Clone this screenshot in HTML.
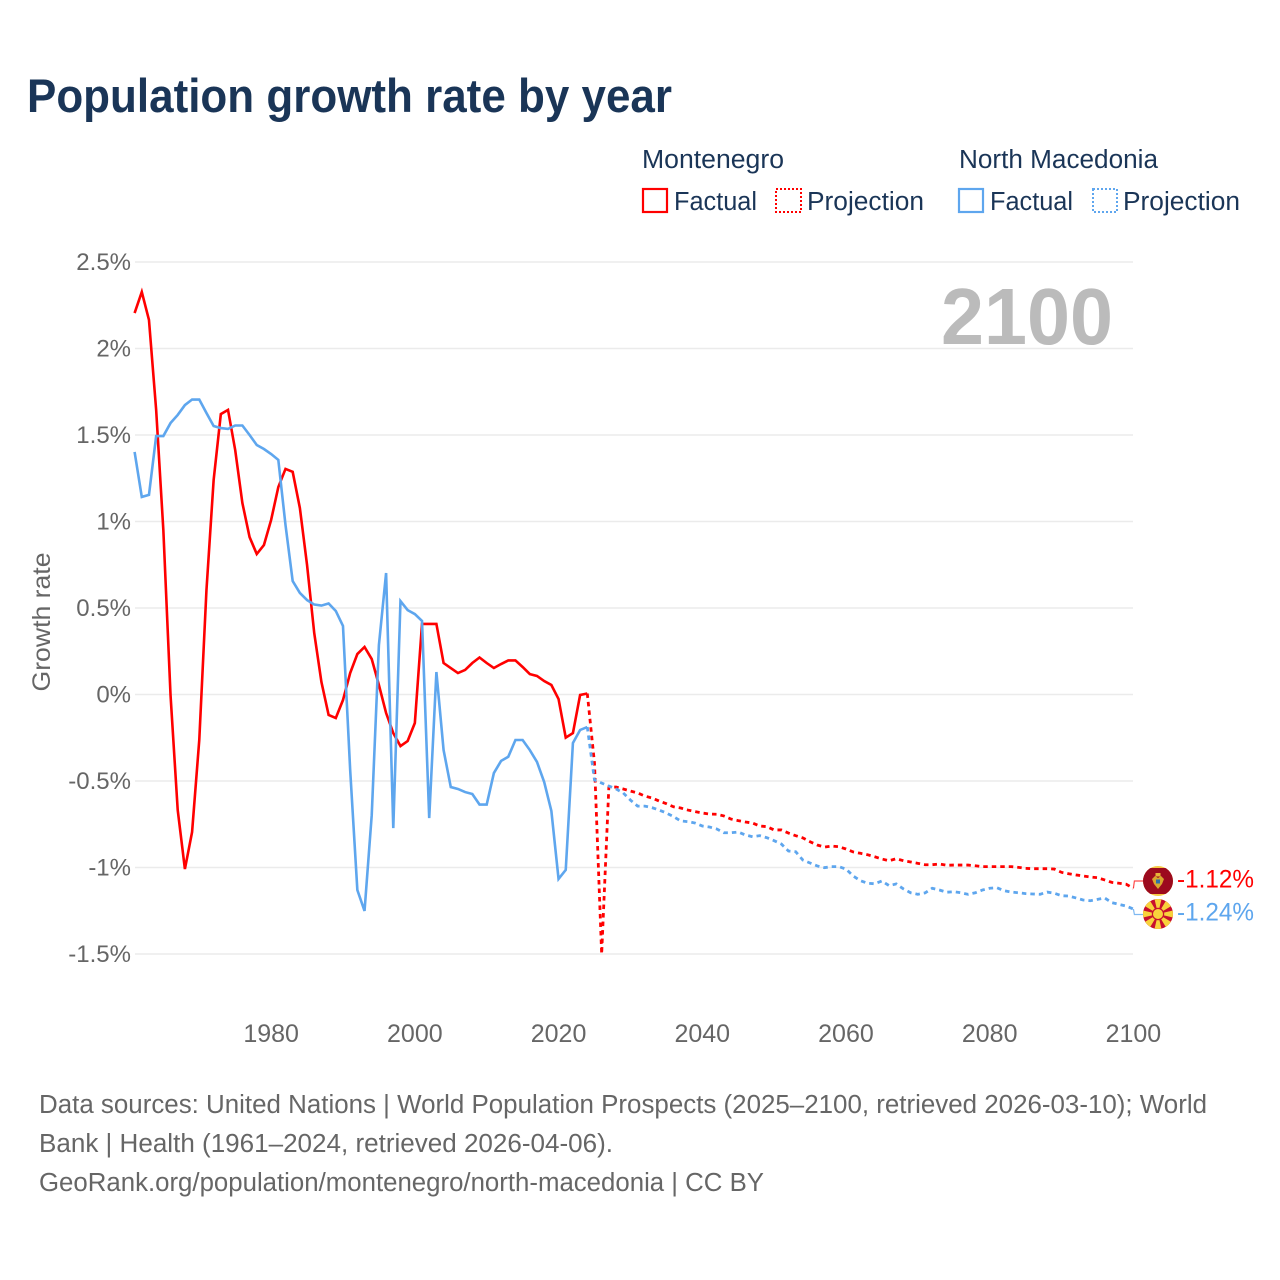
<!DOCTYPE html>
<html lang="en">
<head>
<meta charset="utf-8">
<title>Population growth rate by year</title>
<style>
html,body{margin:0;padding:0;background:#fff}
svg{display:block}
text{font-family:"Liberation Sans",sans-serif}
</style>
</head>
<body>
<svg id="chart" xmlns="http://www.w3.org/2000/svg" width="1280" height="1280" viewBox="0 0 1280 1280">
  <defs>
    <clipPath id="plot-clip"><rect x="130" y="250" width="1004" height="704.5"/></clipPath>
    <clipPath id="me-clip"><circle cx="1158" cy="881" r="15"/></clipPath>
    <clipPath id="mk-clip"><circle cx="1158" cy="914" r="15"/></clipPath>
  </defs>
  <text x="27" y="112" font-size="47" font-weight="700" fill="#1a3557" textLength="645" lengthAdjust="spacingAndGlyphs">Population growth rate by year</text>

  <g>
    <text x="642" y="168" font-size="25.5" fill="#1a3557" textLength="142" lengthAdjust="spacingAndGlyphs">Montenegro</text>
    <text x="959" y="168" font-size="25.5" fill="#1a3557" textLength="199" lengthAdjust="spacingAndGlyphs">North Macedonia</text>
    <rect x="643" y="189" width="24" height="23" fill="none" stroke="#ff0000" stroke-width="2.2"/>
    <text x="674" y="210" font-size="25.5" fill="#1a3557" textLength="83" lengthAdjust="spacingAndGlyphs">Factual</text>
    <rect x="776" y="189" width="25" height="23" fill="none" stroke="#ff0000" stroke-width="2" stroke-dasharray="2 2"/>
    <text x="807" y="210" font-size="25.5" fill="#1a3557" textLength="117" lengthAdjust="spacingAndGlyphs">Projection</text>
    <rect x="959" y="189" width="24" height="23" fill="none" stroke="#5ea6ee" stroke-width="2.2"/>
    <text x="990" y="210" font-size="25.5" fill="#1a3557" textLength="83" lengthAdjust="spacingAndGlyphs">Factual</text>
    <rect x="1093" y="189" width="24" height="23" fill="none" stroke="#5ea6ee" stroke-width="2" stroke-dasharray="2 2"/>
    <text x="1123" y="210" font-size="25.5" fill="#1a3557" textLength="117" lengthAdjust="spacingAndGlyphs">Projection</text>
  </g>

  <g id="grid"></g>
  <g id="y-ticks"></g>
  <g id="x-ticks"></g>
  <text transform="translate(50,622) rotate(-90)" text-anchor="middle" font-size="25" fill="#666666" textLength="139" lengthAdjust="spacingAndGlyphs">Growth rate</text>
  <text x="941" y="344" font-size="80" font-weight="700" fill="#bbbbbb" textLength="172" lengthAdjust="spacingAndGlyphs">2100</text>

  <g id="series" clip-path="url(#plot-clip)"></g>
  <g id="leaders"></g>

  <g clip-path="url(#me-clip)">
    <rect x="1143" y="866" width="30" height="30" fill="#f6c945"/>
    <rect x="1143" y="868" width="30" height="26" fill="#9c0a1e"/>
    <path d="M1152 879 L1155 876 L1158 878 L1161 876 L1164 879 L1162 884 L1158 889 L1154 884 Z" fill="#d9a62e"/>
    <rect x="1155.5" y="873" width="5" height="3.5" fill="#e6b53a"/>
    <rect x="1156" y="879.5" width="4" height="4" fill="#2f6fa8"/>
  </g>
  <g clip-path="url(#mk-clip)">
    <rect x="1143" y="899" width="30" height="30" fill="#c8102e"/>
    <path d="M1154.5 899 L1161.5 899 L1158 914 Z M1154.5 929 L1161.5 929 L1158 914 Z M1143 910.5 L1143 917.5 L1158 914 Z M1173 910.5 L1173 917.5 L1158 914 Z M1143 899 L1149 899 L1158 914 L1143 905 Z M1173 899 L1167 899 L1158 914 L1173 905 Z M1143 929 L1149 929 L1158 914 L1143 923 Z M1173 929 L1167 929 L1158 914 L1173 923 Z" fill="#f8d23c"/>
    <circle cx="1158" cy="914" r="6.2" fill="#c8102e"/>
    <circle cx="1158" cy="914" r="5" fill="#f8d23c"/>
  </g>
  <text id="label-me" x="1177" y="887.5" font-size="25" fill="#ff0000" textLength="77" lengthAdjust="spacingAndGlyphs"></text>
  <text id="label-mk" x="1177" y="920.5" font-size="25" fill="#5ea6ee" textLength="77" lengthAdjust="spacingAndGlyphs"></text>

  <g font-size="25.5" fill="#666666">
    <text x="39" y="1113" textLength="1168" lengthAdjust="spacingAndGlyphs">Data sources: United Nations | World Population Prospects (2025–2100, retrieved 2026-03-10); World</text>
    <text x="39" y="1152" textLength="574" lengthAdjust="spacingAndGlyphs">Bank | Health (1961–2024, retrieved 2026-04-06).</text>
    <text x="39" y="1191" textLength="725" lengthAdjust="spacingAndGlyphs">GeoRank.org/population/montenegro/north-macedonia | CC BY</text>
  </g>
</svg>
<script>
const yTickValues = [2.5, 2, 1.5, 1, 0.5, 0, -0.5, -1, -1.5];
const yTickLabels = ["2.5%", "2%", "1.5%", "1%", "0.5%", "0%", "-0.5%", "-1%", "-1.5%"];
const xTickYears = [1980, 2000, 2020, 2040, 2060, 2080, 2100];
const factualStartYear = 1961;
const projectionStartYear = 2024;
const montenegroFactual = [2.205,2.327,2.165,1.645,.951,-.003,-.668,-1.009,-.795,-.263,.604,1.240,1.621,1.645,1.413,1.107,.910,.812,.864,1.009,1.199,1.304,1.287,1.078,.749,.355,.072,-.118,-.136,-.032,.124,.234,.275,.205,.055,-.107,-.223,-.298,-.269,-.165,.408,.408,.408,.182,.153,.124,.142,.182,.214,.182,.153,.176,.197,.197,.159,.118,.107,.078,.055,-.026,-.249,-.223,-.003,.006];
const northMacedoniaFactual = [1.402,1.142,1.154,1.494,1.494,1.569,1.616,1.673,1.705,1.705,1.627,1.552,1.540,1.535,1.555,1.555,1.500,1.442,1.419,1.390,1.356,.980,.656,.587,.546,.520,.514,.526,.483,.396,-.436,-1.130,-1.251,-.697,.286,.702,-.772,.540,.488,.465,.425,-.714,.130,-.321,-.535,-.546,-.564,-.575,-.636,-.636,-.454,-.384,-.360,-.263,-.263,-.321,-.390,-.506,-.673,-1.066,-1.014,-.280,-.205,-.188];
const montenegroProjection = [.006,-.396,-1.5,-.535,-.535,-.546,-.558,-.569,-.587,-.598,-.616,-.631,-.649,-.656,-.668,-.677,-.685,-.691,-.692,-.702,-.720,-.729,-.737,-.743,-.760,-.764,-.783,-.783,-.801,-.816,-.829,-.851,-.870,-.882,-.876,-.880,-.893,-.910,-.918,-.926,-.938,-.951,-.961,-.949,-.961,-.968,-.976,-.984,-.984,-.980,-.987,-.986,-.986,-.986,-.990,-.995,-.995,-.995,-.995,-.995,-.999,-1.005,-1.007,-1.007,-1.007,-1.009,-1.028,-1.036,-1.043,-1.049,-1.055,-1.059,-1.072,-1.086,-1.091,-1.097,-1.12];
const northMacedoniaProjection = [-.188,-.494,-.512,-.529,-.546,-.569,-.610,-.645,-.645,-.654,-.668,-.685,-.706,-.731,-.735,-.743,-.760,-.766,-.777,-.799,-.799,-.795,-.812,-.822,-.816,-.828,-.845,-.864,-.905,-.909,-.957,-.974,-.991,-1.001,-.995,-.995,-1.009,-1.049,-1.076,-1.091,-1.094,-1.078,-1.105,-1.095,-1.124,-1.146,-1.155,-1.147,-1.120,-1.130,-1.143,-1.140,-1.146,-1.155,-1.146,-1.130,-1.120,-1.117,-1.134,-1.142,-1.146,-1.151,-1.153,-1.155,-1.142,-1.149,-1.163,-1.165,-1.176,-1.188,-1.192,-1.184,-1.176,-1.203,-1.213,-1.223,-1.24];

const SVG_NS = "http://www.w3.org/2000/svg";
const RED = "#ff0000";
const BLUE = "#5ea6ee";
function xScale(year) { return 134.6 + (year - 1961) * (1133.4 - 134.6) / (2100 - 1961); }
function yScale(v) { return 694.5 - v * 173; }
function make(tag, attrs, parent) {
  const el = document.createElementNS(SVG_NS, tag);
  for (const k in attrs) el.setAttribute(k, attrs[k]);
  parent.appendChild(el);
  return el;
}
function seriesPath(values, startYear) {
  return values.map((v, i) => (i ? "L" : "M") + xScale(startYear + i).toFixed(2) + " " + yScale(v).toFixed(2)).join(" ");
}
const gridG = document.getElementById("grid");
const yG = document.getElementById("y-ticks");
yTickValues.forEach((v, i) => {
  const line = make("line", {x1: 135, x2: 1133, y1: yScale(v), y2: yScale(v), stroke: "#ebebeb", "stroke-width": 1.5}, gridG);
  
  
  const t = make("text", {x: 131, y: yScale(v) + 8, "text-anchor": "end", "font-size": 24, fill: "#666666"}, yG);
  
  
  t.textContent = yTickLabels[i];
});
const xG = document.getElementById("x-ticks");
xTickYears.forEach((yr) => {
  const t = make("text", {x: xScale(yr), y: 1042, "text-anchor": "middle", "font-size": 25, fill: "#666666"}, xG);
  
  
  t.textContent = String(yr);
});
const seriesG = document.getElementById("series");
const lineRedFactual = make("path", {d: seriesPath(montenegroFactual, factualStartYear), fill: "none", stroke: RED, "stroke-width": 2.6, "stroke-linejoin": "miter"}, seriesG);


const lineBlueFactual = make("path", {d: seriesPath(northMacedoniaFactual, factualStartYear), fill: "none", stroke: BLUE, "stroke-width": 2.6, "stroke-linejoin": "miter"}, seriesG);


const lineRedProj = make("path", {d: seriesPath(montenegroProjection, projectionStartYear), fill: "none", stroke: RED, "stroke-width": 2.8, "stroke-dasharray": "4.5 4"}, seriesG);


const lineBlueProj = make("path", {d: seriesPath(northMacedoniaProjection, projectionStartYear), fill: "none", stroke: BLUE, "stroke-width": 2.8, "stroke-dasharray": "4.5 4"}, seriesG);



const leadersG = document.getElementById("leaders");
const lastRed = montenegroProjection[montenegroProjection.length - 1];
const lastBlue = northMacedoniaProjection[northMacedoniaProjection.length - 1];
const leadRed = make("path", {d: "M" + xScale(2100) + " " + yScale(lastRed) + " L" + (xScale(2100) + 1) + " 881 L1145 881", fill: "none", stroke: RED, "stroke-width": 1.2, opacity: 0.7}, leadersG);


const leadBlue = make("path", {d: "M" + xScale(2100) + " " + yScale(lastBlue) + " L" + (xScale(2100) + 1) + " 914.5 L1145 914.5", fill: "none", stroke: BLUE, "stroke-width": 1.2, opacity: 0.8}, leadersG);


document.getElementById("label-me").textContent = lastRed.toFixed(2) + "%";
document.getElementById("label-mk").textContent = lastBlue.toFixed(2) + "%";
</script>
</body>
</html>
